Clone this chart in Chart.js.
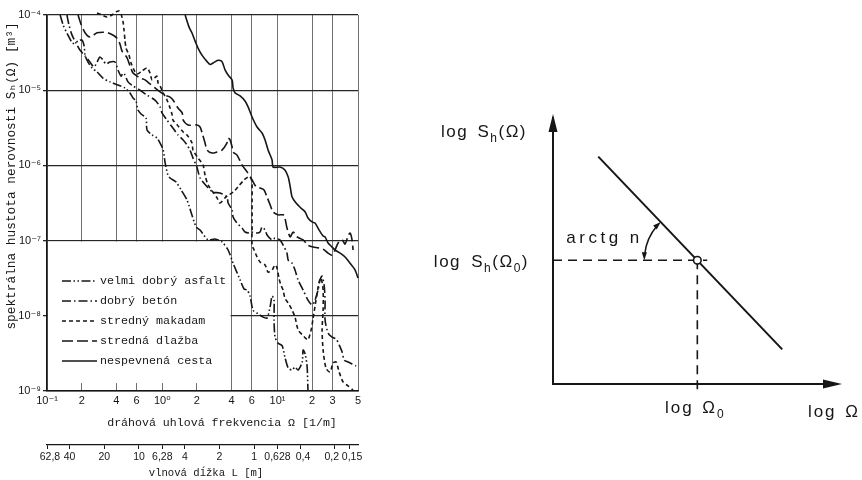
<!DOCTYPE html>
<html lang="sk">
<head>
<meta charset="utf-8">
<title>Spektrálna hustota nerovnosti</title>
<script src="https://cdn.jsdelivr.net/npm/chart.js@4.4.1/dist/chart.umd.min.js"></script>
<style>
  html, body { margin: 0; padding: 0; background: #fff; }
  #wrap { position: relative; width: 862px; height: 480px; overflow: hidden; background: #fff; }
  #spectra { position: absolute; left: 0; top: 0; }
  #scheme { position: absolute; left: 380px; top: 0; }
</style>
</head>
<body>
<div id="wrap">
  <canvas id="spectra" width="380" height="480"></canvas>
  <canvas id="scheme" width="482" height="480"></canvas>
</div>
<script>
// axis ticks
const freqTicks = [0.1, 0.2, 0.4, 0.6, 1, 2, 4, 6, 10, 20, 30, 50];
const freqTickLabels = ['10⁻¹', '2', '4', '6', '10⁰', '2', '4', '6', '10¹', '2', '3', '5'];
const densityTicks = [1e-9, 1e-8, 1e-7, 1e-6, 1e-5, 1e-4];
const densityTickLabels = ['10⁻⁹', '10⁻⁸', '10⁻⁷', '10⁻⁶', '10⁻⁵', '10⁻⁴'];
const waveTicks = [62.8, 40, 20, 10, 6.28, 4, 2, 1, 0.628, 0.4, 0.2, 0.15];
// spaces nudge the crowded labels apart, as in the hand-lettered original
const waveTickLabels = ['  62,8', '40', '20', '10', '6,28', '4', '2', '1', '0,628', '  0,4', '0,2  ', '  0,15'];

// velmi dobrý asfalt
const asfaltOmega = [0.130, 0.138, 0.152, 0.168, 0.186, 0.201, 0.210, 0.214, 0.227, 0.246, 0.272, 0.306, 0.352, 0.413, 0.475, 0.525, 0.558, 0.592, 0.616, 0.655, 0.723, 0.738, 0.816, 0.901, 0.976, 1.02, 1.06, 1.12, 1.17, 1.32, 1.46, 1.64, 1.81, 1.97, 2.13, 2.50, 2.87, 3.30, 3.73, 4.12, 4.74, 5.13, 5.45, 5.78, 6.14, 6.79, 7.50, 8.12, 8.63, 8.98, 9.34, 9.34, 9.53, 10.1, 11.0, 11.6, 12.4, 13.4, 14.2, 15.1, 16.4, 16.7, 17.4, 18.1, 18.4];
const asfaltS = [1.0e-4, 7.4e-5, 5.4e-5, 4.2e-5, 4.5e-5, 4.65e-5, 3.87e-5, 2.9e-5, 2.37e-5, 1.97e-5, 1.75e-5, 1.45e-5, 1.29e-5, 1.17e-5, 1.07e-5, 9.2e-6, 7.9e-6, 7.2e-6, 5.45e-6, 4.83e-6, 4.27e-6, 2.96e-6, 2.54e-6, 2.31e-6, 1.87e-6, 1.6e-6, 1.08e-6, 7.45e-7, 6.8e-7, 6.0e-7, 4.7e-7, 3.47e-7, 2.19e-7, 1.52e-7, 1.38e-7, 1.02e-7, 1.05e-7, 9.6e-8, 7.5e-8, 5.0e-8, 3.0e-8, 2.27e-8, 2.2e-8, 1.83e-8, 1.19e-8, 1.06e-8, 9.6e-9, 9.35e-9, 1.31e-8, 1.83e-8, 1.62e-8, 8.8e-9, 5.2e-9, 4.35e-9, 3.97e-9, 2.83e-9, 2.02e-9, 1.9e-9, 2.08e-9, 1.9e-9, 2.43e-9, 3.51e-9, 3.1e-9, 2.08e-9, 1.0e-9];

// dobrý betón
const betonOmega = [0.149, 0.155, 0.165, 0.179, 0.193, 0.214, 0.236, 0.256, 0.272, 0.288, 0.306, 0.325, 0.352, 0.389, 0.413, 0.439, 0.457, 0.475, 0.505, 0.558, 0.641, 0.738, 0.866, 0.957, 0.996, 1.10, 1.22, 1.37, 1.52, 1.64, 1.74, 1.85, 2.0, 2.13, 2.45, 2.76, 3.17, 3.65, 3.73, 4.04, 4.12, 4.46, 4.93, 5.23, 5.78, 6.14, 6.65, 7.06, 7.35, 7.81, 8.12, 8.98, 9.53, 10.5, 11.2, 12.1, 12.4, 13.4, 14.2, 15.1, 16.7, 18.4, 20.0, 21.2, 22.5, 23.4, 24.4, 25.4, 25.9, 25.9, 27.5, 29.8, 32.3, 34.3, 36.4, 37.9, 41.0, 44.4, 48.1];
const betonS = [1.0e-4, 7.4e-5, 5.4e-5, 4.2e-5, 3.42e-5, 2.85e-5, 2.37e-5, 2.03e-5, 2.37e-5, 2.76e-5, 2.52e-5, 2.23e-5, 2.37e-5, 2.37e-5, 1.86e-5, 1.54e-5, 1.69e-5, 1.59e-5, 1.29e-5, 1.14e-5, 1.0e-5, 8.6e-6, 7.4e-6, 6.0e-6, 5.0e-6, 4.0e-6, 3.24e-6, 2.54e-6, 2.18e-6, 1.87e-6, 1.6e-6, 1.25e-6, 9.5e-7, 6.8e-7, 5.2e-7, 4.4e-7, 4.3e-7, 3.8e-7, 3.16e-7, 2.55e-7, 2.06e-7, 1.71e-7, 1.47e-7, 1.3e-7, 1.26e-7, 1.3e-7, 1.26e-7, 1.3e-7, 1.52e-7, 1.38e-7, 1.19e-7, 1.02e-7, 1.08e-7, 1.02e-7, 8.7e-8, 6.8e-8, 5.5e-8, 5.0e-8, 4.06e-8, 3.0e-8, 2.2e-8, 1.62e-8, 1.39e-8, 1.62e-8, 2.2e-8, 3.0e-8, 3.38e-8, 2.57e-8, 1.62e-8, 8.8e-9, 5.9e-9, 5.2e-9, 4.9e-9, 4.1e-9, 3.3e-9, 2.58e-9, 2.43e-9, 2.29e-9, 2.15e-9];

// stredný makadam
const makadamOmega = [0.272, 0.300, 0.332, 0.367, 0.397, 0.422, 0.439, 0.457, 0.466, 0.475, 0.485, 0.515, 0.536, 0.569, 0.604, 0.668, 0.738, 0.784, 0.816, 0.901, 0.920, 0.957, 1.02, 1.10, 1.17, 1.22, 1.24, 1.35, 1.52, 1.64, 1.81, 1.85, 2.05, 2.26, 2.35, 2.50, 2.76, 2.99, 3.17, 3.51, 3.73, 4.12, 4.55, 5.13, 5.56, 5.90, 6.02, 6.02, 6.02, 6.02, 6.02, 6.27, 6.65, 7.06, 7.81, 8.29, 8.98, 9.53, 9.92, 10.3, 10.7, 11.2, 11.6, 12.4, 13.4, 14.2, 15.1, 16.4, 17.4, 18.4, 19.6, 20.4, 21.6, 23.0, 23.9, 24.9, 24.9, 24.4, 24.9, 26.4, 28.6, 30.4, 32.3, 34.3, 37.1, 41.0, 45.3];
const makadamS = [1.06e-4, 1.0e-4, 9.4e-5, 1.0e-4, 1.10e-4, 1.13e-4, 1.03e-4, 8.1e-5, 6.3e-5, 4.65e-5, 3.64e-5, 2.94e-5, 2.3e-5, 1.86e-5, 1.64e-5, 1.8e-5, 1.97e-5, 1.69e-5, 1.37e-5, 1.54e-5, 1.25e-5, 1.14e-5, 9.2e-6, 7.4e-6, 5.8e-6, 4.7e-6, 4.0e-6, 3.45e-6, 2.78e-6, 2.54e-6, 2.0e-6, 1.6e-6, 1.25e-6, 1.01e-6, 7.45e-7, 5.5e-7, 4.4e-7, 3.7e-7, 3.16e-7, 3.7e-7, 4.0e-7, 4.4e-7, 5.2e-7, 6.4e-7, 7.0e-7, 6.8e-7, 5.5e-7, 3.47e-7, 2.19e-7, 1.38e-7, 8.7e-8, 7.5e-8, 6.05e-8, 5.2e-8, 4.74e-8, 3.82e-8, 4.06e-8, 4.74e-8, 4.32e-8, 3.18e-8, 2.57e-8, 2.2e-8, 1.72e-8, 1.48e-8, 1.19e-8, 9.6e-9, 6.5e-9, 5.6e-9, 5.1e-9, 4.8e-9, 6.5e-9, 9.35e-9, 1.62e-8, 2.81e-8, 3.18e-8, 2.2e-8, 1.19e-8, 6.5e-9, 3.5e-9, 2.0e-9, 1.79e-9, 2.36e-9, 2.43e-9, 1.79e-9, 1.32e-9, 1.17e-9, 1.03e-9];

// stredná dlažba
const dlazbaOmega = [0.186, 0.197, 0.214, 0.236, 0.272, 0.306, 0.338, 0.382, 0.405, 0.430, 0.448, 0.495, 0.525, 0.558, 0.604, 0.641, 0.709, 0.784, 0.866, 0.957, 1.06, 1.17, 1.24, 1.37, 1.49, 1.52, 1.68, 2.0, 2.13, 2.22, 2.35, 2.45, 2.71, 2.99, 3.30, 3.65, 3.73, 3.88, 4.04, 4.12, 4.46, 4.93, 5.45, 6.02, 6.52, 7.06, 7.65, 8.12, 8.63, 9.16, 10.1, 11.2, 11.6, 12.1, 12.9, 13.7, 14.8, 16.7, 18.4, 20.4, 22.5, 24.9, 27.5, 29.8, 31.6, 33.6, 36.4, 38.6, 41.0, 42.7, 44.4, 45.3];
const dlazbaS = [1.0e-4, 7.6e-5, 5.8e-5, 5.1e-5, 5.8e-5, 5.9e-5, 5.8e-5, 5.3e-5, 4.9e-5, 4.1e-5, 3.3e-5, 2.7e-5, 2.1e-5, 1.69e-5, 1.54e-5, 1.45e-5, 1.37e-5, 1.21e-5, 1.07e-5, 9.5e-6, 8.6e-6, 8.1e-6, 7.4e-6, 5.8e-6, 5.0e-6, 4.0e-6, 3.45e-6, 3.45e-6, 3.24e-6, 2.7e-6, 2.0e-6, 1.6e-6, 1.46e-6, 1.51e-6, 1.6e-6, 2.0e-6, 2.3e-6, 2.18e-6, 1.76e-6, 1.51e-6, 1.37e-6, 1.01e-6, 8.2e-7, 6.4e-7, 5.2e-7, 5.0e-7, 4.7e-7, 3.8e-7, 3.0e-7, 2.4e-7, 2.2e-7, 2.2e-7, 2.0e-7, 1.47e-7, 1.12e-7, 1.3e-7, 1.12e-7, 1.02e-7, 8.7e-8, 8.2e-8, 8.0e-8, 7.7e-8, 6.8e-8, 6.4e-8, 7.5e-8, 9.3e-8, 1.02e-7, 9.0e-8, 1.15e-7, 1.26e-7, 1.02e-7, 7.5e-8];

// nespevnená cesta
const cestaOmega = [1.58, 1.71, 1.81, 1.93, 2.05, 2.22, 2.45, 2.60, 2.76, 3.05, 3.30, 3.51, 3.73, 4.04, 4.12, 4.29, 4.74, 5.23, 5.56, 6.02, 6.65, 7.35, 7.81, 8.29, 8.98, 9.16, 10.5, 11.6, 12.4, 12.9, 13.4, 14.5, 16.0, 17.4, 18.4, 20.0, 21.2, 23.0, 24.9, 25.9, 27.5, 29.8, 31.6, 35.0, 38.6, 42.7, 47.2, 50];
const cestaS = [1.0e-4, 6.9e-5, 5.8e-5, 4.5e-5, 3.6e-5, 2.9e-5, 2.4e-5, 2.2e-5, 2.3e-5, 2.5e-5, 2.4e-5, 1.86e-5, 1.59e-5, 1.37e-5, 1.07e-5, 9.2e-6, 8.4e-6, 7.2e-6, 6.0e-6, 4.4e-6, 3.24e-6, 2.7e-6, 2.18e-6, 1.6e-6, 1.18e-6, 9.5e-7, 9.5e-7, 8.7e-7, 7.0e-7, 5.2e-7, 3.8e-7, 3.16e-7, 2.7e-7, 2.4e-7, 2.0e-7, 1.77e-7, 1.71e-7, 1.38e-7, 1.15e-7, 1.12e-7, 9.3e-8, 8.2e-8, 7.5e-8, 6.8e-8, 6.05e-8, 5.0e-8, 4.06e-8, 3.18e-8];

// schematic on the right (log axes, arbitrary units)
const trendLogOmega = [1.6, 8.1];
const trendLogS = [8.55, 1.3];
const refLogOmega0 = 5.1;
const refLogS0 = 4.65;
const levelLogOmega = [0, 5.45];
const dropLogS = [4.65, -0.3];

const INK = '#161616';
const MONO = "'Liberation Mono', 'DejaVu Sans Mono', monospace";
const SANS = "'Liberation Sans', 'DejaVu Sans', sans-serif";

function toPoints(xs, ys) {
  return xs.map((x, i) => ({ x, y: ys[i] }));
}

const roads = [
  { label: 'velmi dobrý asfalt', omega: asfaltOmega, s: asfaltS, dash: [9, 2.5, 1.5, 2.5, 1.5, 2.5] },
  { label: 'dobrý betón', omega: betonOmega, s: betonS, dash: [9, 3, 1.5, 3] },
  { label: 'stredný makadam', omega: makadamOmega, s: makadamS, dash: [4, 3] },
  { label: 'stredná dlažba', omega: dlazbaOmega, s: dlazbaS, dash: [11, 4] },
  { label: 'nespevnená cesta', omega: cestaOmega, s: cestaS, dash: [] },
];

const spectraDecor = {
  id: 'spectraDecor',
  beforeDatasetsDraw(chart) {
    // the legend panel hides the grid in the lower left corner
    const { ctx, chartArea, scales } = chart;
    const x0 = chartArea.left + 1;
    const x1 = scales.x.getPixelForValue(4) - 1;
    const y0 = scales.y.getPixelForValue(1e-7) + 1;
    const y1 = chartArea.bottom - 8;
    ctx.save();
    ctx.fillStyle = '#fff';
    ctx.fillRect(x0, y0, x1 - x0, y1 - y0);
    ctx.restore();
  },
  afterDraw(chart) {
    const { ctx } = chart;
    ctx.save();
    ctx.fillStyle = INK;
    ctx.textBaseline = 'middle';

    ctx.save();
    ctx.translate(12, 176);
    ctx.rotate(-Math.PI / 2);
    ctx.textAlign = 'center';
    ctx.font = `12.8px ${MONO}`;
    ctx.fillText('spektrálna hustota nerovnosti Sₕ(Ω) [m³]', 0, 0);
    ctx.restore();

    ctx.textAlign = 'center';
    ctx.font = `11.6px ${MONO}`;
    ctx.fillText('dráhová uhlová frekvencia Ω [1/m]', 222, 423);
    ctx.font = `10.6px ${MONO}`;
    ctx.fillText('vlnová dĺžka L [m]', 206, 473);

    // legend
    ctx.textAlign = 'left';
    ctx.font = `11.7px ${MONO}`;
    ctx.strokeStyle = INK;
    ctx.lineWidth = 1.5;
    chart.data.datasets.forEach((ds, i) => {
      const y = 281 + i * 20;
      ctx.setLineDash(ds.borderDash);
      ctx.beginPath();
      ctx.moveTo(62, y);
      ctx.lineTo(97, y);
      ctx.stroke();
      ctx.setLineDash([]);
      ctx.fillText(ds.label, 100, y);
    });
    ctx.restore();
  }
};

new Chart(document.getElementById('spectra'), {
  type: 'line',
  data: {
    datasets: roads.map(r => ({
      label: r.label,
      data: toPoints(r.omega, r.s),
      xAxisID: 'x',
      yAxisID: 'y',
      borderColor: INK,
      borderWidth: 1.6,
      borderDash: r.dash,
      pointRadius: 0,
      tension: 0.25,
      fill: false,
      clip: 6
    }))
  },
  options: {
    responsive: false,
    animation: false,
    devicePixelRatio: 1,
    layout: { padding: { left: 0, right: 22, top: 15, bottom: 0 } },
    plugins: { legend: { display: false }, tooltip: { enabled: false } },
    scales: {
      x: {
        type: 'logarithmic',
        position: 'bottom',
        weight: 0,
        min: 0.1,
        max: 50,
        afterBuildTicks: s => { s.ticks = freqTicks.map(v => ({ value: v })); },
        afterFit: s => { s.height = 54; },
        grid: { color: '#707070', lineWidth: 1, drawTicks: false },
        border: { color: INK, width: 1.5 },
        ticks: {
          autoSkip: false, maxRotation: 0, minRotation: 0, padding: 3, color: INK,
          font: { family: SANS, size: 11 },
          callback: (v, i) => freqTickLabels[i]
        }
      },
      wave: {
        type: 'logarithmic',
        position: 'bottom',
        weight: 1,
        min: 0.1,
        max: 50,
        afterBuildTicks: s => { s.ticks = waveTicks.map(L => ({ value: 2 * Math.PI / L })); },
        afterFit: s => { s.height = 35; },
        grid: { drawOnChartArea: false, drawTicks: true, tickLength: 4, color: INK, lineWidth: 1 },
        border: { color: INK, width: 1.3 },
        ticks: {
          autoSkip: false, maxRotation: 0, minRotation: 0, padding: 2, color: INK,
          font: { family: SANS, size: 10.5 },
          callback: (v, i) => waveTickLabels[i]
        }
      },
      y: {
        type: 'logarithmic',
        position: 'left',
        min: 1e-9,
        max: 1e-4,
        afterBuildTicks: s => { s.ticks = densityTicks.map(v => ({ value: v })); },
        afterFit: s => { s.width = 47; },
        grid: { color: '#262626', lineWidth: 1.3, tickLength: 4 },
        border: { color: INK, width: 1.5 },
        ticks: {
          autoSkip: false, padding: 2, color: INK,
          font: { family: SANS, size: 11 },
          callback: (v, i) => densityTickLabels[i]
        }
      }
    }
  },
  plugins: [spectraDecor]
});

// --- right schematic ---
const SCHEME_FONT = `17px ${SANS}`;
const SCHEME_SUB = `12px ${SANS}`;

function richText(ctx, parts, x, y, align) {
  const widths = parts.map(p => {
    ctx.font = p.sub ? SCHEME_SUB : SCHEME_FONT;
    return ctx.measureText(p.t).width + (p.gap || 0);
  });
  const total = widths.reduce((a, b) => a + b, 0);
  let cx = align === 'right' ? x - total : align === 'center' ? x - total / 2 : x;
  parts.forEach((p, i) => {
    ctx.font = p.sub ? SCHEME_SUB : SCHEME_FONT;
    ctx.fillText(p.t, cx, p.sub ? y + 5 : y);
    cx += widths[i];
  });
}

function arrowHead(ctx, x, y, angle, len, half) {
  ctx.save();
  ctx.translate(x, y);
  ctx.rotate(angle);
  ctx.beginPath();
  ctx.moveTo(0, 0);
  ctx.lineTo(-len, -half);
  ctx.lineTo(-len, half);
  ctx.closePath();
  ctx.fill();
  ctx.restore();
}

const schemeDecor = {
  id: 'schemeDecor',
  afterDraw(chart) {
    const { ctx, chartArea: ca, scales } = chart;
    const px = scales.x.getPixelForValue(refLogOmega0);
    const py = scales.y.getPixelForValue(refLogS0);
    ctx.save();
    ctx.fillStyle = INK;
    ctx.strokeStyle = INK;

    // axis arrows
    arrowHead(ctx, ca.left, ca.top - 4, -Math.PI / 2, 18, 4.5);
    arrowHead(ctx, ca.right + 6, ca.bottom, 0, 19, 4.5);

    // angle arc between the level line and the trend line
    const tx = scales.x.getPixelForValue(trendLogOmega[0]);
    const ty = scales.y.getPixelForValue(trendLogS[0]);
    const lineAngle = Math.atan2(ty - py, tx - px) + 2 * Math.PI;
    const r = 53;
    ctx.lineWidth = 1.5;
    ctx.beginPath();
    ctx.arc(px, py, r, Math.PI + 0.12, lineAngle - 0.1, false);
    ctx.stroke();
    arrowHead(ctx, px - r, py, Math.PI / 2, 8, 2.6);
    arrowHead(ctx, px + r * Math.cos(lineAngle), py + r * Math.sin(lineAngle),
      lineAngle + Math.PI / 2, 8, 2.6);

    // labels
    ctx.textBaseline = 'alphabetic';
    ctx.letterSpacing = '1.5px';
    richText(ctx, [{ t: 'log ', gap: 3 }, { t: 'S' }, { t: 'h', sub: true }, { t: '(Ω)' }],
      ca.left - 26, ca.top + 19, 'right');
    richText(ctx, [{ t: 'log ', gap: 4 }, { t: 'S' }, { t: 'h', sub: true }, { t: '(Ω' }, { t: '0', sub: true }, { t: ')' }],
      ca.left - 24, py + 7, 'right');
    ctx.letterSpacing = '3.5px';
    richText(ctx, [{ t: 'arctg n' }], px - 131, py - 17, 'left');
    ctx.letterSpacing = '2px';
    richText(ctx, [{ t: 'log ', gap: 2 }, { t: 'Ω' }, { t: '0', sub: true }], px - 2, ca.bottom + 29, 'center');
    richText(ctx, [{ t: 'log ', gap: 2 }, { t: 'Ω' }], chart.width - 2, ca.bottom + 33, 'right');
    ctx.restore();
  }
};

new Chart(document.getElementById('scheme'), {
  type: 'scatter',
  data: {
    datasets: [
      {
        data: [{ x: refLogOmega0, y: refLogS0 }],
        pointRadius: 3.8,
        pointBackgroundColor: '#fff',
        pointBorderColor: INK,
        pointBorderWidth: 1.6
      },
      {
        data: toPoints(trendLogOmega, trendLogS),
        showLine: true, borderColor: INK, borderWidth: 2, pointRadius: 0
      },
      {
        data: toPoints(levelLogOmega, [refLogS0, refLogS0]),
        showLine: true, borderColor: INK, borderWidth: 1.6, borderDash: [9, 6], pointRadius: 0, clip: false
      },
      {
        data: toPoints([refLogOmega0, refLogOmega0], dropLogS),
        showLine: true, borderColor: INK, borderWidth: 1.6, borderDash: [9, 6], pointRadius: 0, clip: false
      }
    ]
  },
  options: {
    responsive: false,
    animation: false,
    devicePixelRatio: 1,
    layout: { padding: { left: 173, right: 26, top: 118, bottom: 96 } },
    plugins: { legend: { display: false }, tooltip: { enabled: false } },
    scales: {
      x: {
        type: 'linear', min: 0, max: 10,
        ticks: { display: false }, grid: { display: false },
        border: { color: INK, width: 2 },
        afterFit: s => { s.height = 0; }
      },
      y: {
        type: 'linear', min: 0, max: 10,
        ticks: { display: false }, grid: { display: false },
        border: { color: INK, width: 2 },
        afterFit: s => { s.width = 0; }
      }
    }
  },
  plugins: [schemeDecor]
});
</script>
</body>
</html>
